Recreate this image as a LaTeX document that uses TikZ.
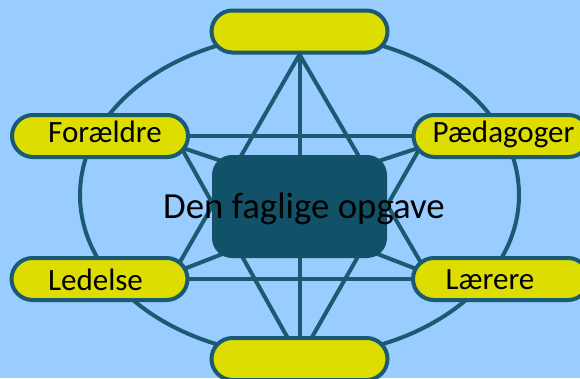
\documentclass[tikz,border=0pt]{standalone}
\usepackage{fontspec}
\setmainfont{Carlito}
\usetikzlibrary{calc}
\definecolor{bgc}{HTML}{99CCFF}
\definecolor{yel}{HTML}{DDDD00}
\definecolor{tealc}{HTML}{1A5B73}
\definecolor{corec}{HTML}{115268}
\pgfdeclarelayer{bg}
\pgfdeclarelayer{back}
\pgfsetlayers{bg,back,main}
\begin{document}
\begin{tikzpicture}[x=1pt,y=-1pt,
  pill/.style={draw=tealc,fill=yel,line width=4pt,rounded corners=21pt,minimum width=176pt,minimum height=42pt,inner sep=0pt},
  link/.style={draw=tealc,line width=4pt},
  lbl/.style={font=\fontsize{31}{31}\selectfont,anchor=base,inner sep=0pt,text=black},
  bigtext/.style={font=\fontsize{36.8}{37}\selectfont,anchor=base,inner sep=0pt,text=black},
  corebox/.style={fill=corec,rounded corners=20pt,minimum width=175pt,minimum height=103pt,inner sep=0pt}]
\useasboundingbox (0,0) rectangle (580,378);
\begin{pgfonlayer}{bg}
\fill[bgc] (0,0) rectangle (580,378);
\end{pgfonlayer}
% outer pills
\node[pill] (t) at (299.5,31.5) {};
\node[pill] (b) at (299.5,359) {};
\node[pill] (f) at (100,136) {};
\node[pill] (p) at (501.5,136) {};
\node[pill] (l) at (99.5,279) {};
\node[pill] (r) at (501,279) {};
% centre
\node[corebox] (c) at (299.5,206.5) {};
\node[bigtext] (ct) at (304,218) {Den faglige opgave};
% labels
\node[lbl] (ft) at (105,142.5) {Forældre};
\node[lbl] (pt) at (503.5,142.5) {Pædagoger};
\node[lbl] (lt) at (95.5,290) {Ledelse};
\node[lbl] (rt) at (490,289.5) {Lærere};
\begin{pgfonlayer}{back}
\draw[link] (299.5,195) ellipse [x radius=219.5, y radius=161];
\draw[link] (t.center) -- (b.center);
\draw[link] (f.center) -- (p.center);
\draw[link] (l.center) -- (r.center);
\draw[link] (t.south) -- ($(l)+(77,-11)$);
\draw[link] (t.south) -- ($(r)+(-77,-11)$);
\draw[link] (b.center) -- ($(f)+(77,4)$);
\draw[link] (b.center) -- ($(p)+(-77,4)$);
\draw[link] ($(f)+(70,7.7)$) -- ($(c)+(0,-19.5)$);
\draw[link] ($(p)+(-70,7.7)$) -- ($(c)+(0,-19.5)$);
\draw[link] ($(l)+(70,-4.4)$) -- ($(c)+(0,17.5)$);
\draw[link] ($(r)+(-70,-4.4)$) -- ($(c)+(0,17.5)$);
\end{pgfonlayer}
\end{tikzpicture}
\end{document}
